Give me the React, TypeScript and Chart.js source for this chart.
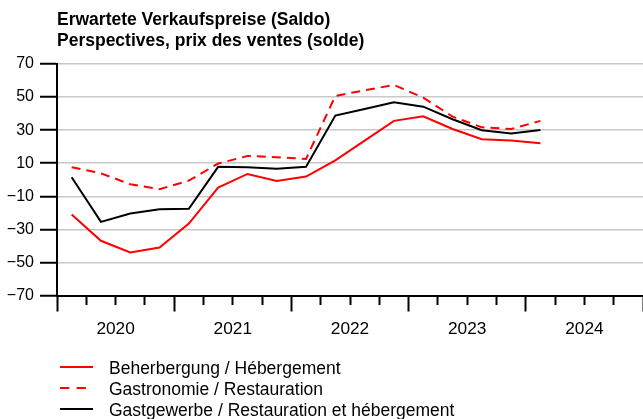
import React, { useEffect, useRef } from 'react';
import { Chart, registerables } from 'chart.js';

Chart.register(...registerables);

// Quarters shown (2020 Q1 – 2024 Q1)
const quarters = [
  '2020 Q1', '2020 Q2', '2020 Q3', '2020 Q4',
  '2021 Q1', '2021 Q2', '2021 Q3', '2021 Q4',
  '2022 Q1', '2022 Q2', '2022 Q3', '2022 Q4',
  '2023 Q1', '2023 Q2', '2023 Q3', '2023 Q4',
  '2024 Q1',
];
const years = ['2020', '2021', '2022', '2023', '2024'];

const beherbergung = [-21.0, -36.9, -44.0, -41.0, -26.5, -4.7, 3.5, -0.7, 1.9, 11.7, 23.7, 35.6, 38.4, 30.7, 24.5, 23.7, 22.1];
const gastronomie = [7.6, 3.9, -2.7, -5.7, -0.5, 9.8, 14.4, 13.6, 12.6, 50.7, 54.1, 57.3, 49.7, 38.2, 31.7, 30.7, 35.6];
const gastgewerbe = [1.5, -25.5, -20.4, -17.8, -17.6, 7.8, 7.6, 6.6, 7.8, 38.8, 42.8, 46.8, 44.2, 36.6, 29.9, 27.9, 30.1];

const yTicks = [-70, -50, -30, -10, 10, 30, 50, 70];

const seriesLabels = [
  'Beherbergung / Hébergement',
  'Gastronomie / Restauration',
  'Gastgewerbe / Restauration et hébergement',
];
const titleLines = ['Erwartete Verkaufspreise (Saldo)', 'Perspectives, prix des ventes (solde)'];

const FONT = '"Liberation Sans", Arial, Helvetica, sans-serif';

// quarter label -> mid-quarter position on a year axis
const quarterPos = (q: string) => {
  const [y, qq] = q.split(' Q');
  return Number(y) + (Number(qq) - 1) / 4 + 0.125;
};

const toPoints = (vals: number[]) => vals.map((v, i) => ({ x: quarterPos(quarters[i]), y: v }));

const rowLegend = {
  id: 'rowLegend',
  afterDraw(chart: any) {
    const { ctx, chartArea } = chart;
    const x0 = chartArea.left + 3;
    ctx.save();
    ctx.font = `17.5px ${FONT}`;
    ctx.textBaseline = 'alphabetic';
    ctx.textAlign = 'left';
    chart.data.datasets.forEach((ds: any, i: number) => {
      const base = chartArea.bottom + 78.5 + i * 21;
      const ly = base - 7;
      ctx.beginPath();
      ctx.strokeStyle = ds.borderColor;
      ctx.lineWidth = 2;
      ctx.setLineDash(ds.borderDash && ds.borderDash.length ? [9.3, 7.3] : []);
      ctx.moveTo(x0, ly);
      ctx.lineTo(x0 + 33, ly);
      ctx.stroke();
      ctx.setLineDash([]);
      ctx.fillStyle = '#000';
      ctx.fillText(ds.label, x0 + 49, base);
    });
    ctx.restore();
  },
};

export default function App() {
  const ref = useRef<HTMLCanvasElement | null>(null);

  useEffect(() => {
    document.body.style.margin = '0';
    const canvas = ref.current;
    if (!canvas) return;
    const chart = new Chart(canvas, {
      type: 'line',
      data: {
        datasets: [
          {
            label: seriesLabels[0],
            data: toPoints(beherbergung),
            borderColor: '#ff0000',
            backgroundColor: '#ff0000',
            borderWidth: 2,
            pointRadius: 0,
            tension: 0,
            borderDash: [],
          },
          {
            label: seriesLabels[1],
            data: toPoints(gastronomie),
            borderColor: '#ff0000',
            backgroundColor: '#ff0000',
            borderWidth: 2,
            pointRadius: 0,
            tension: 0,
            borderDash: [9, 6],
          },
          {
            label: seriesLabels[2],
            data: toPoints(gastgewerbe),
            borderColor: '#000000',
            backgroundColor: '#000000',
            borderWidth: 2,
            pointRadius: 0,
            tension: 0,
            borderDash: [],
          },
        ],
      },
      options: {
        animation: false,
        responsive: false,
        maintainAspectRatio: false,
        layout: { padding: { left: 0, right: 0, top: 0, bottom: 0 } },
        plugins: {
          legend: { display: false },
          tooltip: { enabled: false },
          title: {
            display: true,
            text: titleLines,
            align: 'start',
            fullSize: false,
            color: '#000',
            font: { family: FONT, size: 17.5, weight: 'bold', lineHeight: '20.7px' },
            padding: { top: 9.8, bottom: 12.8 },
          },
        },
        scales: {
          x: {
            type: 'linear',
            min: Number(years[0]),
            max: Number(years[years.length - 1]) + 1,
            afterFit: (scale: any) => {
              scale.height = 123.5;
              scale.paddingLeft = 0;
              scale.paddingRight = 0;
            },
            ticks: {
              stepSize: 0.25,
              autoSkip: false,
              maxRotation: 0,
              minRotation: 0,
              color: '#000',
              font: { family: FONT, size: 17.3 },
              padding: 7.5,
              callback: (v: any) => {
                const n = Number(v);
                const frac = n - Math.floor(n);
                if (Math.abs(frac - 0.5) < 1e-6) {
                  const y = String(Math.floor(n));
                  return years.includes(y) ? y : '';
                }
                return '';
              },
            },
            grid: {
              drawOnChartArea: false,
              drawTicks: true,
              tickLength: 16,
              tickColor: '#000',
              tickWidth: 2,
              tickBorderDash: (ctx: any) => {
                const n = ctx.tick ? Number(ctx.tick.value) : 0;
                return Math.abs(n - Math.round(n)) < 1e-6 ? [] : [8, 100];
              },
            } as any,
            border: { display: true, color: '#000', width: 2 },
          },
          y: {
            type: 'linear',
            min: yTicks[0],
            max: yTicks[yTicks.length - 1],
            afterFit: (scale: any) => {
              scale.width = 57;
            },
            afterBuildTicks: (scale: any) => {
              scale.ticks = yTicks.map((v) => ({ value: v }));
            },
            ticks: {
              stepSize: 20,
              color: '#000',
              font: { family: FONT, size: 16 },
              padding: 6,
              callback: (v: any) => {
                const n = Number(v);
                return n < 0 ? '\u2212' + Math.abs(n) : String(n);
              },
            },
            grid: {
              color: '#c8c8c8',
              lineWidth: 1.5,
              drawTicks: true,
              tickLength: 17,
              tickColor: '#000',
              tickWidth: 2,
            },
            border: { display: true, color: '#000', width: 2 },
          },
        },
      },
      plugins: [rowLegend],
    } as any);
    return () => chart.destroy();
  }, []);

  return (
    <div style={{ width: 643, height: 419 }}>
      <canvas ref={ref} width={643} height={419} style={{ display: 'block' }} />
    </div>
  );
}
